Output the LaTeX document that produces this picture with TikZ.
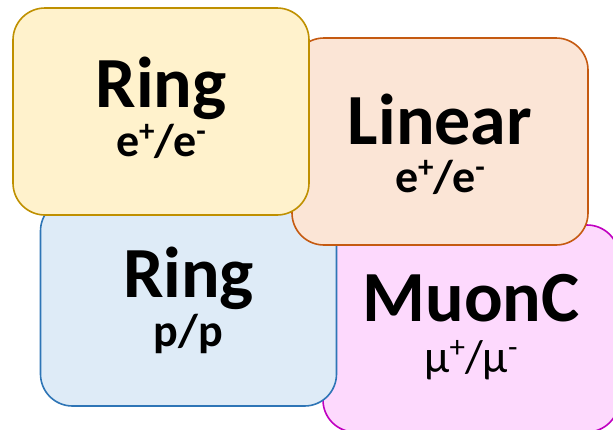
\documentclass[tikz,border=0pt]{standalone}
\usepackage{fontspec}
\setmainfont{Carlito}
\usepackage{tikz}
\usetikzlibrary{calc}

\definecolor{ringeefill}{HTML}{FFF2CC}
\definecolor{ringeedraw}{HTML}{BF9000}
\definecolor{linearfill}{HTML}{FBE5D6}
\definecolor{lineardraw}{HTML}{C55A11}
\definecolor{ringppfill}{HTML}{DEEBF7}
\definecolor{ringppdraw}{HTML}{2E75B6}
\definecolor{muonfill}{HTML}{FDD9FD}
\definecolor{muondraw}{HTML}{C000C0}

\newcommand{\charge}[1]{\raisebox{0.32em}{\fontsize{31}{31}\selectfont #1}}

\tikzset{
    box/.style={rectangle, rounded corners=32pt, line width=1.6pt,
        minimum width=296pt, minimum height=207pt, inner sep=0pt},
    title/.style={anchor=base, inner sep=0pt, font=\fontsize{72}{72}\selectfont\bfseries},
    beam/.style={anchor=base, inner sep=0pt, font=\fontsize{46}{46}\selectfont\bfseries}
}

\begin{document}
\begin{tikzpicture}[x=1pt, y=-1pt]
        \useasboundingbox (0, 0) rectangle (613, 429);
        \clip (0, 0) rectangle (613, 429);

        % back to front
        \node[box, fill=muonfill, draw=muondraw] (muon) at (471, 328.5) {};
        \node[box, fill=ringppfill, draw=ringppdraw] (ringpp) at (188.5, 302.5) {};
        \node[box, fill=linearfill, draw=lineardraw] (linear) at (440, 141.5) {};
        \node[box, fill=ringeefill, draw=ringeedraw] (ringee) at (161, 111.5) {};

        \node[title] (ringeetitle) at ($(ringee.north) + (0, 100)$) {Ring};
        \node[beam] (ringeebeam) at ($(ringee.north) + (0, 149)$) {e\charge{+}/e\charge{-}};

        \node[title] (lineartitle) at ($(linear.north) + (0, 107)$) {Linear};
        \node[beam] (linearbeam) at ($(linear.north) + (0, 155)$) {e\charge{+}/e\charge{-}};

        \node[title] (ringpptitle) at ($(ringpp.north) + (0, 99)$) {Ring};
        \node[beam] (ringppbeam) at ($(ringpp.north) + (0, 148)$) {p/p};

        \node[title] (muontitle) at ($(muon.north) + (0, 97)$) {MuonC};
        \node[beam] (muonbeam) at ($(muon.north) + (0, 148)$) {\mdseries μ\charge{+}/μ\charge{-}};
    \end{tikzpicture}
\end{document}
